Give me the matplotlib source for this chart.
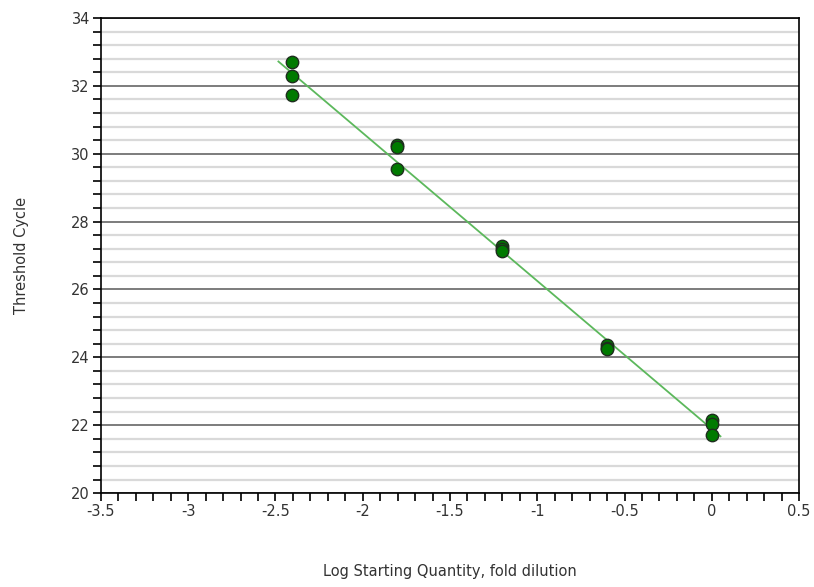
import numpy as np
import matplotlib.pyplot as plt
from matplotlib.ticker import MultipleLocator

# Standard curve: log starting quantity vs threshold cycle (triplicates)
log_qty = [-2.408, -2.408, -2.408,
           -1.806, -1.806, -1.806,
           -1.204, -1.204, -1.204,
           -0.602, -0.602, -0.602,
           0.0, 0.0, 0.0]
ct = [32.70, 32.30, 31.72,
      30.27, 30.20, 29.55,
      27.27, 27.20, 27.12,
      24.35, 24.28, 24.24,
      22.15, 22.05, 21.72]

x = np.array(log_qty)
y = np.array(ct)

# linear regression for the standard curve
slope, intercept = np.polyfit(x, y, 1)
xfit = np.array([x.min() - 0.075, x.max() + 0.05])
yfit = slope * xfit + intercept

fig = plt.figure(figsize=(8.14, 5.87), dpi=100)
ax = fig.add_axes([0.124, 0.16, 0.8576, 0.8093])

ax.set_xlim(-3.5, 0.5)
ax.set_ylim(20, 34)
ax.xaxis.set_major_locator(MultipleLocator(0.5))
ax.xaxis.set_minor_locator(MultipleLocator(0.1))
ax.yaxis.set_major_locator(MultipleLocator(2))
ax.yaxis.set_minor_locator(MultipleLocator(0.4))

ax.grid(axis='y', which='minor', color='#d9d9d9', lw=1.6, zorder=0)
ax.grid(axis='y', which='major', color='#666666', lw=1.2, zorder=0)
ax.grid(axis='x', which='both', visible=False)

ax.plot(xfit, yfit, color='#5cb85c', lw=1.3, zorder=2)
ax.scatter(x, y, s=80, color='#007a00', edgecolor='#1e2e1e', lw=1.0, zorder=3)

for s in ax.spines.values():
    s.set_color('black')
    s.set_linewidth(1.2)

ax.tick_params(which='both', direction='out', length=6, width=1.2, color='black',
               labelsize=10.5, labelcolor='#333333')
ax.tick_params(axis='x', pad=2)
ax.tick_params(axis='y', pad=2)

fmt = lambda v: ('%g' % v)
ax.set_xticks(np.arange(-3.5, 0.51, 0.5))
ax.set_xticklabels([fmt(round(v, 1)) for v in np.arange(-3.5, 0.51, 0.5)])

ax.set_xlabel('Log Starting Quantity, fold dilution', fontsize=10.5, color='#333333', labelpad=32)
ax.set_ylabel('Threshold Cycle', fontsize=10.5, color='#333333', labelpad=30)

fig.savefig('out.png', dpi=100)
